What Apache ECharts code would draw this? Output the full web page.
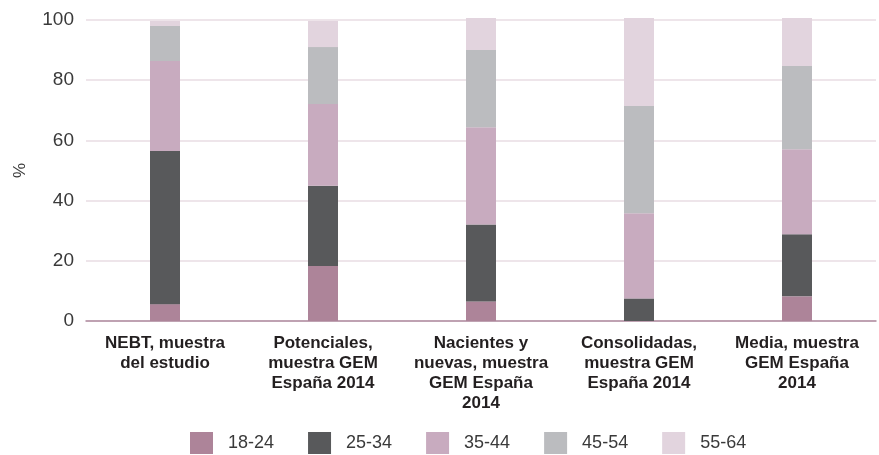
<!DOCTYPE html>
<html>
<head>
<meta charset="utf-8">
<script src="https://cdn.jsdelivr.net/npm/echarts@6/dist/echarts.min.js"></script>
<style>
  html, body { margin: 0; padding: 0; background: #fff; }
  #chart { width: 879px; height: 455px; }
</style>
</head>
<body>
<div id="chart"></div>
<script>
// Age distribution (%) of entrepreneurs by sample
const categories = [
  'NEBT, muestra\ndel estudio',
  'Potenciales,\nmuestra GEM\nEspaña 2014',
  'Nacientes y\nnuevas, muestra\nGEM España\n2014',
  'Consolidadas,\nmuestra GEM\nEspaña 2014',
  'Media, muestra\nGEM España\n2014'
];
const ageGroups = ['18-24', '25-34', '35-44', '45-54', '55-64'];
const age18_24 = [5.6, 18.3, 6.5, 0, 8.2];
const age25_34 = [50.9, 26.6, 25.6, 7.5, 20.6];
const age35_44 = [29.9, 27.2, 32.3, 28.3, 28.3];
const age45_54 = [11.6, 18.9, 25.6, 35.6, 27.6];
const age55_64 = [1.7, 8.7, 10.7, 29.3, 16.0];
const yTicks = [0, 20, 40, 60, 80, 100];

const seriesValues = [age18_24, age25_34, age35_44, age45_54, age55_64];
const colors = ['#AD8499', '#58595B', '#C8ABBF', '#BBBCBF', '#E2D4DE'];
const FONT = '"Liberation Sans", Arial, sans-serif';

const chart = echarts.init(document.getElementById('chart'), null, { renderer: 'canvas' });
chart.setOption({
  animation: false,
  color: colors,
  textStyle: { fontFamily: FONT },
  grid: { left: 86, right: 3, top: 20, bottom: 134, containLabel: false },
  legend: {
    data: ageGroups,
    bottom: 1,
    left: 190,
    padding: 0,
    itemWidth: 23,
    itemHeight: 22,
    itemGap: 34,
    icon: 'rect',
    textStyle: { fontFamily: FONT, fontSize: 18, color: '#3a3a3a', padding: [0, 0, 0, 10] }
  },
  xAxis: {
    type: 'category',
    data: categories,
    axisTick: { show: false },
    axisLine: { lineStyle: { color: '#B08CA0', width: 1.5 } },
    axisLabel: {
      interval: 0,
      margin: 12,
      fontFamily: FONT,
      fontSize: 17,
      fontWeight: 'bold',
      lineHeight: 20,
      color: '#231F20',
      align: 'center'
    }
  },
  yAxis: {
    type: 'value',
    min: yTicks[0],
    max: yTicks[yTicks.length - 1],
    interval: yTicks[1] - yTicks[0],
    name: '%',
    nameLocation: 'middle',
    nameGap: 57,
    nameTextStyle: { fontFamily: FONT, fontSize: 17, color: '#3a3a3a' },
    axisLine: { show: false },
    axisTick: { show: false },
    axisLabel: { margin: 12, fontFamily: FONT, fontSize: 19, color: '#3a3a3a' },
    splitLine: { lineStyle: { color: '#E8DCE3', width: 1.5 } }
  },
  series: ageGroups.map((name, i) => ({
    name,
    type: 'bar',
    stack: 'age',
    barWidth: 30,
    clip: false,
    data: seriesValues[i],
    itemStyle: { color: colors[i] }
  }))
});
</script>
</body>
</html>
